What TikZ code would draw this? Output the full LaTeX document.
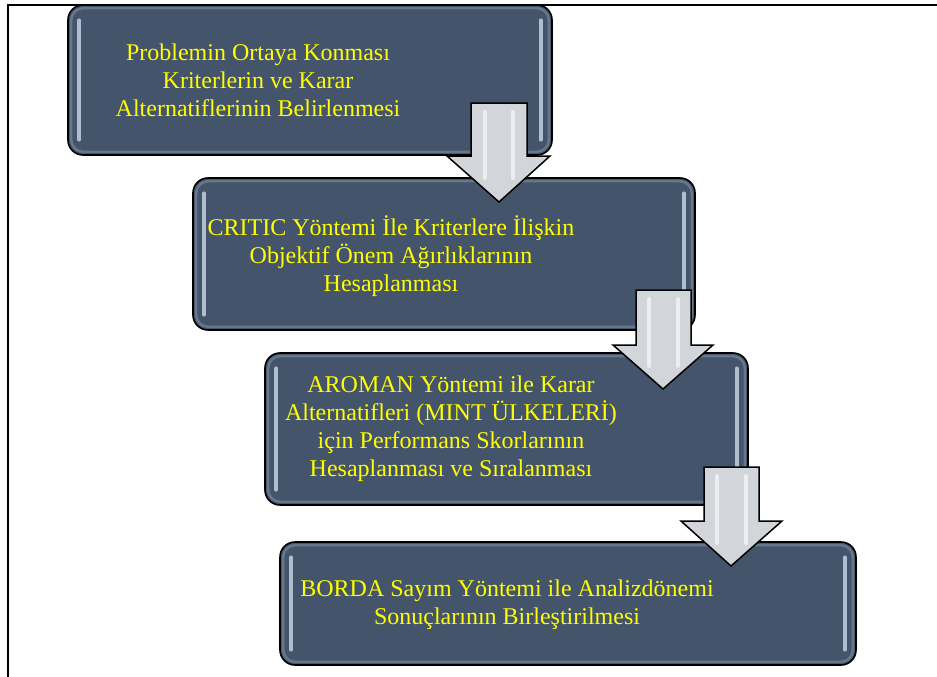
\documentclass[tikz,border=0pt]{standalone}
\usepackage{fontspec}
\setmainfont{Liberation Serif}
\definecolor{boxfill}{HTML}{44546A}
\definecolor{boxrim}{HTML}{66768C}
\definecolor{boxshine}{HTML}{AFBDD0}
\definecolor{arrowfill}{HTML}{D2D5DA}
\definecolor{arrowshine}{HTML}{ECEEF1}
\definecolor{txtyellow}{HTML}{FFFF00}
\tikzset{
  flowbox/.style={draw=black, line width=1.6pt, fill=boxfill, rounded corners=15pt, inner sep=0pt},
  flowtxt/.style={text=txtyellow, font=\fontsize{24}{28}\selectfont, align=center, inner sep=0pt},
  rim/.style={draw=boxrim, line width=2.5pt, rounded corners=12pt},
  shine/.style={draw=boxshine, line width=3.5pt, line cap=round},
  blockarrow/.style={draw=black, line width=1.5pt, fill=arrowfill, line join=miter},
  arrowhl/.style={draw=arrowshine, line width=4pt, line cap=round},
  frameline/.style={draw=black, line width=2pt}
}
\newcommand\flowshine[1]{%
  \draw[rim] ([xshift=4pt,yshift=-4pt]#1.north west) rectangle ([xshift=-4pt,yshift=4pt]#1.south east);
  \draw[shine] ([xshift=12pt,yshift=-16pt]#1.north west) -- ([xshift=12pt,yshift=16pt]#1.south west);
  \draw[shine] ([xshift=-12pt,yshift=-16pt]#1.north east) -- ([xshift=-12pt,yshift=16pt]#1.south east);
}
\begin{document}
\begin{tikzpicture}[x=1pt,y=-1pt]
\useasboundingbox (0,0) rectangle (937,677);
\fill[white] (0,0) rectangle (937,677);
% frame
\coordinate (fa) at (7.5,677);
\coordinate (fb) at (7.5,5.5);
\coordinate (fc) at (937,5.5);
\draw[frameline] (fa) -- (fb) -- (fc);

% boxes
\node[flowbox, minimum width=484pt, minimum height=150pt] (b1) at (310,80) {};
\flowshine{b1}
\node[flowbox, minimum width=502pt, minimum height=152pt] (b2) at (444,254) {};
\flowshine{b2}
\node[flowbox, minimum width=483pt, minimum height=152pt] (b3) at (506.5,429) {};
\flowshine{b3}
\node[flowbox, minimum width=576pt, minimum height=123pt] (b4) at (568,603.5) {};
\flowshine{b4}

% texts
\node[flowtxt] (t1) at (258,80) {Problemin Ortaya Konması\\Kriterlerin ve Karar\\Alternatiflerinin Belirlenmesi};
\node[flowtxt] (t2) at (391,256) {CRITIC Yöntemi İle Kriterlere İlişkin\\Objektif Önem Ağırlıklarının\\Hesaplanması};
\node[flowtxt] (t3) at (451,429) {AROMAN Yöntemi ile Karar\\Alternatifleri (MINT ÜLKELERİ)\\için Performans Skorlarının\\Hesaplanması ve Sıralanması};
\node[flowtxt] (t4) at (507,605) {BORDA Sayım Yöntemi ile Analizdönemi\\Sonuçlarının Birleştirilmesi};

% block arrows
\draw[blockarrow] (471,103) -- (527,103) -- (527,156) -- (550,156) -- (499,202) -- (447,156) -- (471,156) -- cycle;
\draw[arrowhl] (485,112) -- (485,178);
\draw[arrowhl] (513,112) -- (513,178);

\draw[blockarrow] (636,290) -- (691,290) -- (691,345) -- (713,345) -- (663,389) -- (613,345) -- (636,345) -- cycle;
\draw[arrowhl] (649,299) -- (649,366);
\draw[arrowhl] (678,299) -- (678,366);

\draw[blockarrow] (704,467) -- (759,467) -- (759,521) -- (782,521) -- (731,566) -- (681,521) -- (704,521) -- cycle;
\draw[arrowhl] (717,476) -- (717,543);
\draw[arrowhl] (746,476) -- (746,543);
\end{tikzpicture}
\end{document}
